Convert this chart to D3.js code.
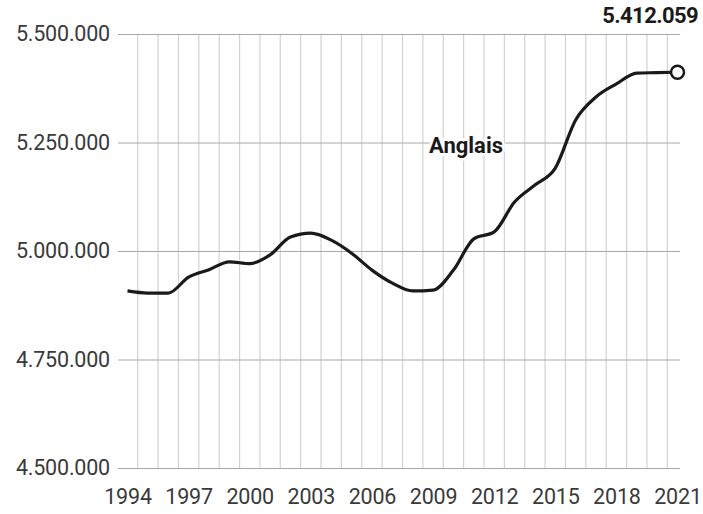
<!DOCTYPE html>
<html>
<head>
<meta charset="utf-8">
<script src="https://cdn.jsdelivr.net/npm/d3@7"></script>
<style>
  body { margin: 0; background: #fff; }
  text { font-family: Roboto, "Liberation Sans", sans-serif; }
</style>
</head>
<body>
<div id="chart"></div>
<script>
// Anglais, 1994 - 2021
var years = [1994, 1995, 1996, 1997, 1998, 1999, 2000, 2001, 2002, 2003,
             2004, 2005, 2006, 2007, 2008, 2009, 2010, 2011, 2012, 2013,
             2014, 2015, 2016, 2017, 2018, 2019, 2020, 2021];
var values = [4908000, 4903000, 4903000, 4940000, 4957000, 4975000, 4971000, 4991000, 5032000, 5041000,
              5025000, 4995000, 4956000, 4926000, 4908000, 4910000, 4956000, 5028000, 5044000, 5113000,
              5152000, 5191000, 5302000, 5355000, 5385000, 5410000, 5411000, 5412059];
var yTicks = [4500000, 4750000, 5000000, 5250000, 5500000];
var xTickYears = [1994, 1997, 2000, 2003, 2006, 2009, 2012, 2015, 2018, 2021];
var seriesName = "Anglais";

var width = 703, height = 514;
var fmt = function(v){ return d3.format(",")(v).replace(/,/g, "."); };

var svg = d3.select("#chart").append("svg").attr("width", width).attr("height", height);

var x = d3.scaleLinear().domain([1994, 2021]).range([127.5, 677.5]);
var y = d3.scaleLinear().domain([4500000, 5500000]).range([468, 34]);

//vertical grid, between the years
var gridYears = years.slice(0, years.length - 1);
svg.append("g").selectAll("line").data(gridYears).enter().append("line")
  .attr("x1", function(d){ return x(d + 0.5); })
  .attr("x2", function(d){ return x(d + 0.5); })
  .attr("y1", y(5500000)).attr("y2", y(4500000))
  .style("stroke", "#d2d2d2").style("stroke-width", 1.2);

//horizontal grid + labels
var yAxis = d3.axisLeft(y).tickValues(yTicks).tickFormat(fmt).tickSize(-562).tickPadding(8);
var gy = svg.append("g").attr("transform", "translate(118,0)").call(yAxis);
gy.select(".domain").remove();
gy.selectAll("line").style("stroke", "#a8a8a8").style("stroke-width", 1.2);
gy.selectAll("text").attr("font-size", 21.5).attr("fill", "#3a3a3a").attr("letter-spacing", "-0.2");

//x labels
var xAxis = d3.axisBottom(x).tickValues(xTickYears).tickFormat(d3.format("d")).tickSize(0).tickPadding(0);
var gx = svg.append("g").attr("transform", "translate(0,489)").call(xAxis);
gx.select(".domain").remove();
gx.selectAll("text").attr("font-size", 21.5).attr("fill", "#3a3a3a").attr("letter-spacing", "-0.2");

//line
var line = d3.line()
  .x(function(d, i){ return x(years[i]); })
  .y(function(d){ return y(d); })
  .curve(d3.curveMonotoneX);

svg.append("path").datum(values)
  .attr("d", line)
  .style("fill", "none").style("stroke", "#1c1a18").style("stroke-width", 3.2)
  .style("stroke-linejoin", "round");

var last = values.length - 1;
svg.append("circle")
  .attr("cx", x(years[last])).attr("cy", y(values[last])).attr("r", 6.5)
  .style("fill", "#fff").style("stroke", "#1c1a18").style("stroke-width", 2.5);

//labels
svg.append("text")
  .attr("x", 698).attr("y", 23)
  .attr("text-anchor", "end")
  .attr("font-size", 22).attr("font-weight", "bold").attr("fill", "#1c1a18")
  .attr("letter-spacing", "-0.6")
  .text(fmt(values[last]));

svg.append("text")
  .attr("x", 466).attr("y", 153)
  .attr("text-anchor", "middle")
  .attr("font-size", 22).attr("font-weight", "bold").attr("fill", "#1c1a18")
  .style("stroke", "#fff").style("stroke-width", 5).style("paint-order", "stroke")
  .text(seriesName);
</script>
</body>
</html>
